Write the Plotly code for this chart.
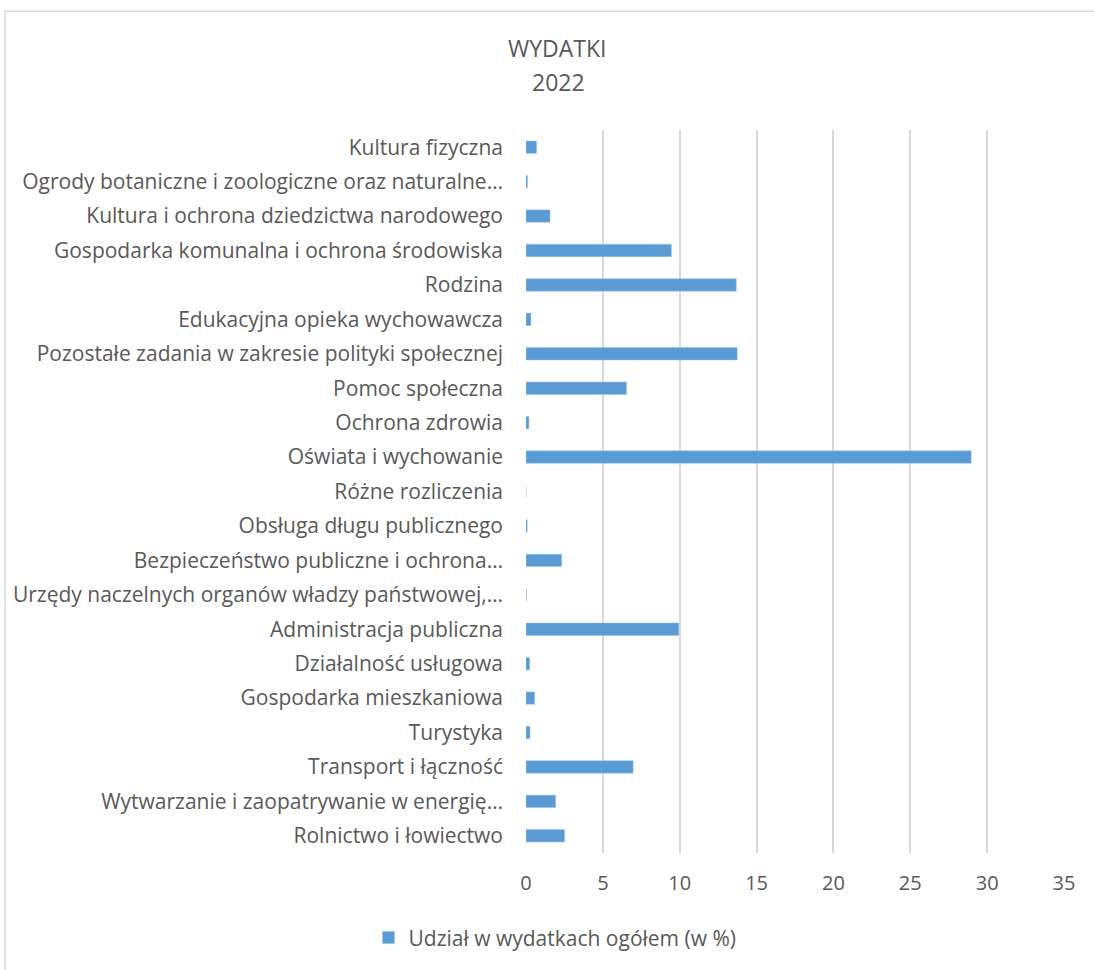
import plotly.graph_objects as go

categories = [
    "Rolnictwo i łowiectwo",
    "Wytwarzanie i zaopatrywanie w energię…",
    "Transport i łączność",
    "Turystyka",
    "Gospodarka mieszkaniowa",
    "Działalność usługowa",
    "Administracja publiczna",
    "Urzędy naczelnych organów władzy państwowej,…",
    "Bezpieczeństwo publiczne i ochrona…",
    "Obsługa długu publicznego",
    "Różne rozliczenia",
    "Oświata i wychowanie",
    "Ochrona zdrowia",
    "Pomoc społeczna",
    "Pozostałe zadania w zakresie polityki społecznej",
    "Edukacyjna opieka wychowawcza",
    "Rodzina",
    "Gospodarka komunalna i ochrona środowiska",
    "Kultura i ochrona dziedzictwa narodowego",
    "Ogrody botaniczne i zoologiczne oraz naturalne…",
    "Kultura fizyczna",
]
values = [2.51, 1.93, 6.97, 0.26, 0.56, 0.24, 9.94, 0.02, 2.32, 0.08, 0.0,
          28.96, 0.19, 6.54, 13.74, 0.32, 13.68, 9.46, 1.56, 0.1, 0.69]
series_name = "Udział w wydatkach ogółem (w %)"
title_lines = ["WYDATKI", "2022"]
x_ticks = [0, 5, 10, 15, 20, 25, 30, 35]

FONT = "Open Sans"
GREY = "#595959"

fig = go.Figure()
fig.add_trace(go.Bar(
    y=categories, x=values, orientation="h", name=series_name,
    marker=dict(color="#5b9bd5", line=dict(color="#9dc3e6", width=0.5)),
    width=0.36, showlegend=True,
))

PLOT_L, PLOT_R, PLOT_T, PLOT_B = 526, 1064, 130, 855
W, H = 1094, 970
pw, ph = PLOT_R - PLOT_L, PLOT_B - PLOT_T


def px_x(x):
    return (x - PLOT_L) / pw


def px_y(y):
    return (PLOT_B - y) / ph


annotations = [
    dict(text=title_lines[0], x=px_x(557), y=px_y(48), xref="paper", yref="paper",
         showarrow=False, xanchor="center", yanchor="middle",
         font=dict(family=FONT, size=23, color=GREY)),
    dict(text=title_lines[1], x=px_x(558), y=px_y(82), xref="paper", yref="paper",
         showarrow=False, xanchor="center", yanchor="middle",
         font=dict(family=FONT, size=23, color=GREY)),
]

fig.update_layout(
    width=W, height=H,
    margin=dict(l=PLOT_L, r=W - PLOT_R, t=PLOT_T, b=H - PLOT_B),
    paper_bgcolor="white", plot_bgcolor="white",
    font=dict(family=FONT, size=21, color=GREY),
    xaxis=dict(range=[0, 35], tickvals=x_ticks, showgrid=True, gridcolor="#d9d9d9",
               gridwidth=1.5, zeroline=False, showline=False, ticks="",
               ticklabelstandoff=16, tickfont=dict(size=20, color=GREY)),
    yaxis=dict(showgrid=False, zeroline=False, showline=False, ticks="",
               ticklabelstandoff=22, tickfont=dict(size=21, color=GREY),
               range=[-0.5, 20.5]),
    legend=dict(orientation="h", x=px_x(555), xanchor="center", y=px_y(940),
                yanchor="middle", font=dict(size=21, color=GREY), itemwidth=30),
    bargap=0.6,
    annotations=annotations,
    shapes=[dict(type="rect", xref="paper", yref="paper",
                 x0=px_x(5), x1=px_x(1120), y0=px_y(1000), y1=px_y(11),
                 line=dict(color="#d9d9d9", width=1.5), fillcolor="rgba(0,0,0,0)",
                 layer="below")],
)

fig.write_html("out.html", config={"displayModeBar": False},
               post_script="document.body.style.margin='0';")
